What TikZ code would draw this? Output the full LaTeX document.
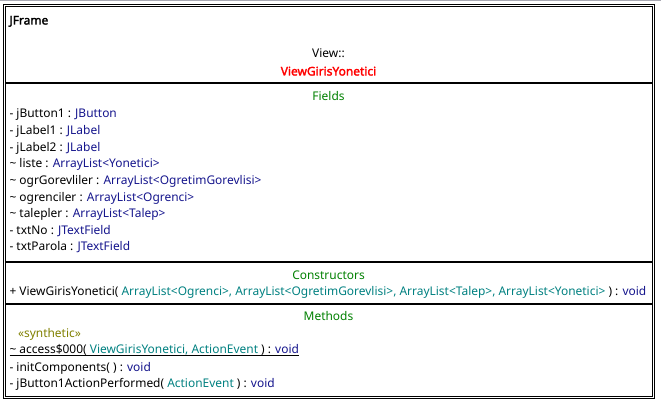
\documentclass[tikz,border=0pt]{standalone}
\usepackage{fontspec}
\setmainfont{Noto Sans}[AutoFakeBold=2.2]
\definecolor{tnavy}{RGB}{20,20,140}
\definecolor{tteal}{RGB}{0,128,128}
\definecolor{tgreen}{RGB}{0,128,0}
\definecolor{tolive}{RGB}{128,128,0}
\definecolor{tred}{RGB}{255,0,0}
\definecolor{tgrey}{RGB}{168,168,178}
\newcommand\ty[1]{\textcolor{tnavy}{#1}}
\newcommand\pa[1]{\textcolor{tteal}{#1}}
\newcommand\ulx[1]{\setbox0\hbox{#1}\rlap{\rule[-2.2pt]{\wd0}{0.7pt}}\box0}
\begin{document}
\begin{tikzpicture}[x=1pt,y=-1pt,
  txt/.style={inner sep=0pt, outer sep=0pt, font=\fontsize{11.95}{14}\selectfont},
  item/.style={txt, anchor=base west},
  head/.style={txt, anchor=base, text=tgreen},
  sep/.style={line width=2pt},
  frame/.style={line width=1pt}]
\useasboundingbox (0,0) rectangle (661,406);
\draw[tgrey, line width=1.5pt] (0,0.75) -- (661,0.75);
\draw[frame] (3.5,5) rectangle (654,398);
\draw[frame] (5.5,7) rectangle (652,396);
\draw[sep] (5.5,83) -- (652,83);
\draw[sep] (5.5,262) -- (652,262);
\draw[sep] (5.5,304) -- (652,304);
% header
\node[item, font=\fontsize{11.95}{14}\selectfont\bfseries] (super) at (9.5,24.5) {JFrame};
\node[txt, anchor=base] (pkg) at (328.5,57.5) {View::};
\node[txt, anchor=base, text=tred, font=\fontsize{11.95}{14}\selectfont\bfseries] (cls) at (328.5,75.5) {ViewGirisYonetici};
% fields
\node[head] (fh) at (328.5,101) {Fields};
\node[item] (f1) at (9.5,118) {- jButton1 : \ty{JButton}};
\node[item] (f2) at (9.5,134.6) {- jLabel1 : \ty{JLabel}};
\node[item] (f3) at (9.5,151.2) {- jLabel2 : \ty{JLabel}};
\node[item] (f4) at (9.5,167.8) {\textasciitilde{} liste : \ty{ArrayList<Yonetici>}};
\node[item] (f5) at (9.5,184.4) {\textasciitilde{} ogrGorevliler : \ty{ArrayList<OgretimGorevlisi>}};
\node[item] (f6) at (9.5,201) {\textasciitilde{} ogrenciler : \ty{ArrayList<Ogrenci>}};
\node[item] (f7) at (9.5,217.6) {\textasciitilde{} talepler : \ty{ArrayList<Talep>}};
\node[item] (f8) at (9.5,234.2) {- txtNo : \ty{JTextField}};
\node[item] (f9) at (9.5,250.8) {- txtParola : \ty{JTextField}};
% constructors
\node[head] (ch) at (328.5,279) {Constructors};
\node[item] (c1) at (9.5,295.7) {+ ViewGirisYonetici( \pa{ArrayList<Ogrenci>, ArrayList<OgretimGorevlisi>, ArrayList<Talep>, ArrayList<Yonetici>} ) : \ty{void}};
% methods
\node[head] (mh) at (328.5,320.7) {Methods};
\node[item, text=tolive] (st) at (18,337.3) {«synthetic»};
\node[item] (m1) at (9.5,353.7) {\ulx{\textasciitilde{} access\$000( }\ulx{\pa{ViewGirisYonetici, ActionEvent}}\ulx{ ) : }\ulx{\ty{void}}};
\node[item] (m2) at (9.5,371.7) {- initComponents( ) : \ty{void}};
\node[item] (m3) at (9.5,387.7) {- jButton1ActionPerformed( \pa{ActionEvent} ) : \ty{void}};
\end{tikzpicture}
\end{document}
